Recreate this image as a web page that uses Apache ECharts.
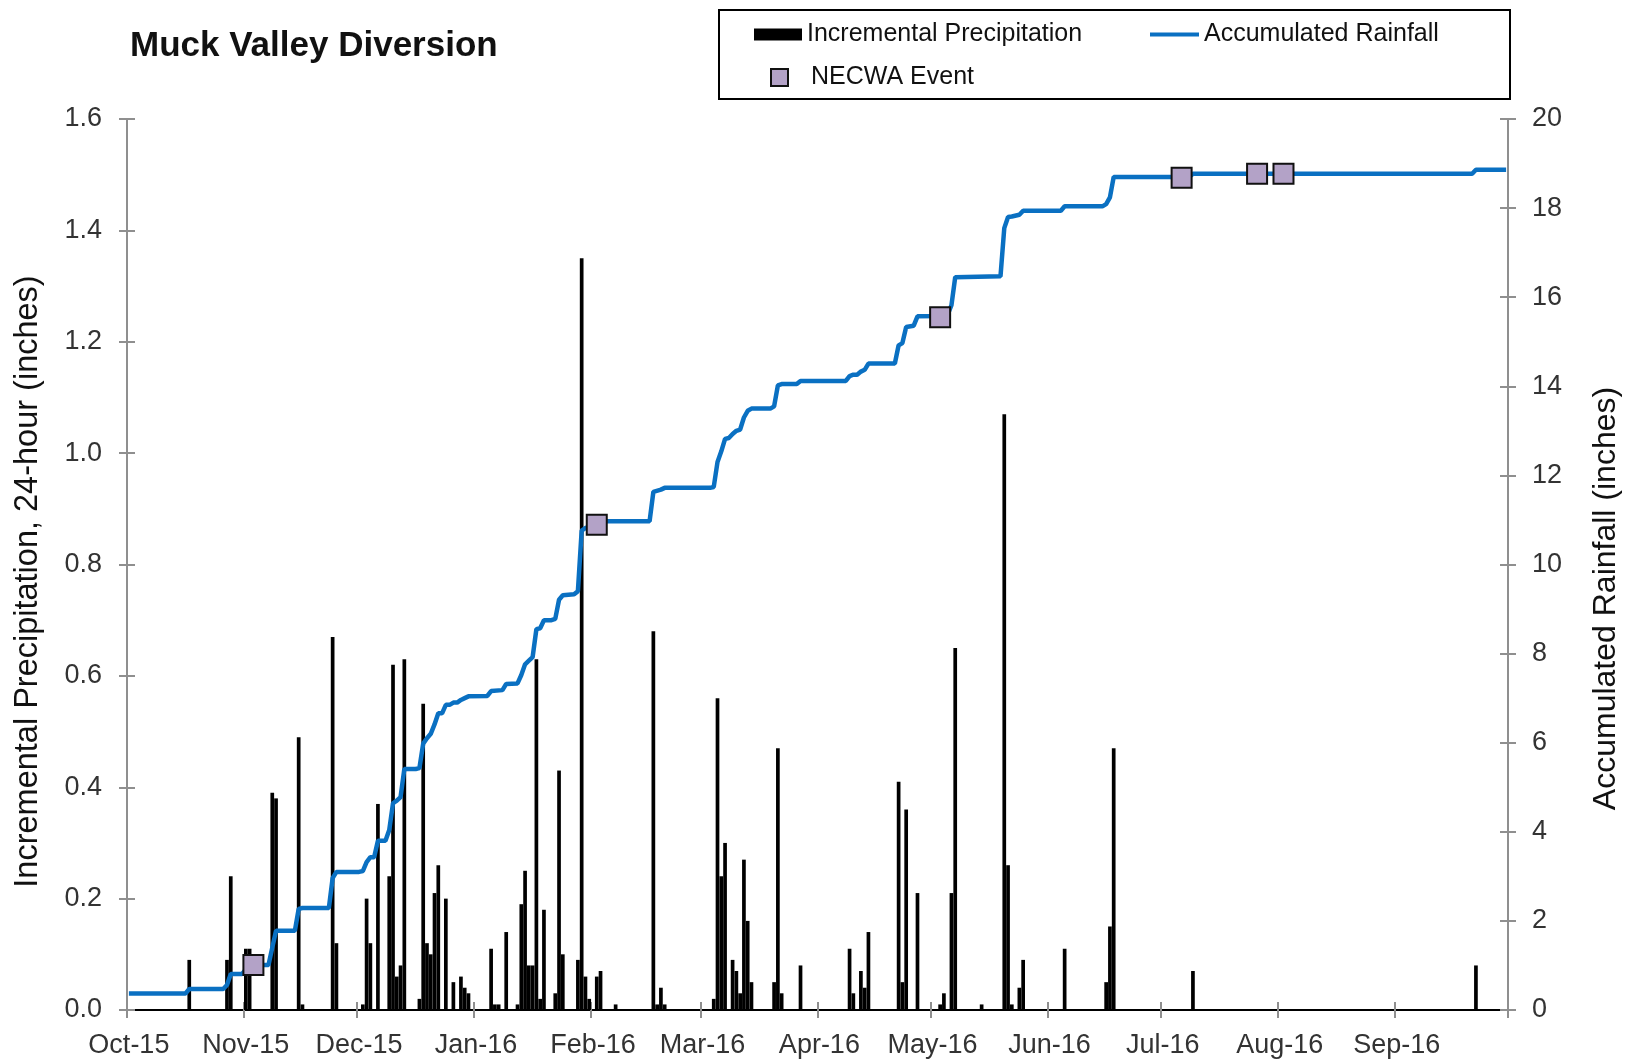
<!DOCTYPE html>
<html>
<head>
<meta charset="utf-8">
<script src="https://cdn.jsdelivr.net/npm/echarts@6/dist/echarts.min.js"></script>
<style>
html,body{margin:0;padding:0;background:#fff;}
#chart{width:1627px;height:1061px;}
</style>
</head>
<body>
<div id="chart"></div>
<script>
// ---- Data ----
const title = 'Muck Valley Diversion';
const monthNames = ['Jan','Feb','Mar','Apr','May','Jun','Jul','Aug','Sep','Oct','Nov','Dec'];
const leftTicks = [0, 0.2, 0.4, 0.6, 0.8, 1.0, 1.2, 1.4, 1.6];
const rightTicks = [0, 2, 4, 6, 8, 10, 12, 14, 16, 18, 20];

// Incremental precipitation (24-hour), inches
const rainDays = [
 '2015-10-17','2015-10-27','2015-10-28','2015-11-01','2015-11-02','2015-11-08','2015-11-09','2015-11-15','2015-11-16','2015-11-24','2015-11-25',
 '2015-12-02','2015-12-03','2015-12-04','2015-12-06','2015-12-09','2015-12-10','2015-12-11','2015-12-12','2015-12-13','2015-12-17','2015-12-18',
 '2015-12-19','2015-12-20','2015-12-21','2015-12-22','2015-12-24','2015-12-26','2015-12-28','2015-12-29','2015-12-30',
 '2016-01-05','2016-01-06','2016-01-07','2016-01-09','2016-01-12','2016-01-13','2016-01-14','2016-01-15','2016-01-16','2016-01-17','2016-01-18',
 '2016-01-19','2016-01-22','2016-01-23','2016-01-24','2016-01-28','2016-01-29','2016-01-30','2016-01-31',
 '2016-02-02','2016-02-03','2016-02-07','2016-02-17','2016-02-18','2016-02-19','2016-02-20',
 '2016-03-04','2016-03-05','2016-03-06','2016-03-07','2016-03-09','2016-03-10','2016-03-11','2016-03-12','2016-03-13','2016-03-14',
 '2016-03-20','2016-03-21','2016-03-22','2016-03-27',
 '2016-04-09','2016-04-10','2016-04-12','2016-04-13','2016-04-14','2016-04-22','2016-04-23','2016-04-24','2016-04-27',
 '2016-05-03','2016-05-04','2016-05-06','2016-05-07','2016-05-14','2016-05-20','2016-05-21','2016-05-22','2016-05-24','2016-05-25',
 '2016-06-05','2016-06-16','2016-06-17','2016-06-18','2016-07-09','2016-09-22'
];
const rainInches = [
 0.09,0.09,0.24,0.11,0.11,0.39,0.38,0.49,0.01,0.67,0.12,
 0.01,0.20,0.12,0.37,0.24,0.62,0.06,0.08,0.63,0.02,0.55,
 0.12,0.10,0.21,0.26,0.20,0.05,0.06,0.04,0.03,
 0.11,0.01,0.01,0.14,0.01,0.19,0.25,0.08,0.08,0.63,0.02,
 0.18,0.03,0.43,0.10,0.09,1.35,0.06,0.02,
 0.06,0.07,0.01,0.68,0.01,0.04,0.01,
 0.02,0.56,0.24,0.30,0.09,0.07,0.03,0.27,0.16,0.05,
 0.05,0.47,0.03,0.08,
 0.11,0.03,0.07,0.04,0.14,0.41,0.05,0.36,0.21,
 0.01,0.03,0.21,0.65,0.01,1.07,0.26,0.01,0.04,0.09,
 0.11,0.05,0.15,0.47,0.07,0.08
];

// Accumulated rainfall, inches (line vertices)
const accumDays = [
 '2015-10-01','2015-10-16','2015-10-17','2015-10-26','2015-10-27','2015-10-28','2015-10-31','2015-11-01','2015-11-02','2015-11-07',
 '2015-11-08','2015-11-09','2015-11-14','2015-11-15','2015-11-16','2015-11-23','2015-11-24','2015-11-25','2015-12-01','2015-12-02',
 '2015-12-03','2015-12-04','2015-12-05','2015-12-06','2015-12-08','2015-12-09','2015-12-10','2015-12-11','2015-12-12','2015-12-13',
 '2015-12-16','2015-12-17','2015-12-18','2015-12-19','2015-12-20','2015-12-21','2015-12-22','2015-12-23','2015-12-24','2015-12-25',
 '2015-12-26','2015-12-27','2015-12-28','2015-12-29','2015-12-30','2016-01-04','2016-01-05','2016-01-08','2016-01-09','2016-01-12',
 '2016-01-13','2016-01-14','2016-01-15','2016-01-16','2016-01-17','2016-01-18','2016-01-19','2016-01-21','2016-01-22','2016-01-23',
 '2016-01-24','2016-01-27','2016-01-28','2016-01-29','2016-01-30','2016-01-31','2016-02-02','2016-02-03','2016-02-16','2016-02-17',
 '2016-02-19','2016-02-20','2016-03-03','2016-03-04','2016-03-05','2016-03-06','2016-03-07','2016-03-08','2016-03-09','2016-03-10',
 '2016-03-11','2016-03-12','2016-03-13','2016-03-14','2016-03-19','2016-03-20','2016-03-21','2016-03-22','2016-03-26','2016-03-27',
 '2016-04-08','2016-04-09','2016-04-10','2016-04-11','2016-04-12','2016-04-13','2016-04-14','2016-04-21','2016-04-22','2016-04-23',
 '2016-04-24','2016-04-26','2016-04-27','2016-05-03','2016-05-04','2016-05-05','2016-05-06','2016-05-07','2016-05-19','2016-05-20',
 '2016-05-21','2016-05-22','2016-05-24','2016-05-25','2016-06-04','2016-06-05','2016-06-15','2016-06-16','2016-06-17','2016-06-18',
 '2016-07-08','2016-07-09','2016-09-21','2016-09-22','2016-09-30'
];
const accumInches = [
 0.37,0.37,0.47,0.47,0.56,0.81,0.81,0.91,1.01,1.01,
 1.40,1.78,1.78,2.27,2.29,2.29,2.96,3.10,3.10,3.12,
 3.32,3.43,3.43,3.80,3.80,4.04,4.64,4.70,4.78,5.41,
 5.41,5.43,5.98,6.10,6.20,6.41,6.66,6.66,6.85,6.85,
 6.90,6.90,6.96,7.00,7.04,7.05,7.16,7.18,7.32,7.33,
 7.52,7.76,7.84,7.92,8.55,8.57,8.75,8.75,8.78,9.21,
 9.31,9.33,9.40,10.76,10.82,10.84,10.90,10.97,10.97,11.63,
 11.68,11.72,11.72,11.74,12.30,12.54,12.82,12.84,12.93,13.00,
 13.03,13.30,13.45,13.50,13.50,13.55,14.02,14.05,14.05,14.12,
 14.12,14.23,14.26,14.26,14.33,14.37,14.51,14.51,14.92,14.97,
 15.33,15.36,15.57,15.58,15.61,15.61,15.82,16.45,16.47,17.55,
 17.80,17.81,17.85,17.94,17.94,18.04,18.04,18.09,18.24,18.70,
 18.70,18.77,18.77,18.86,18.86
];

// NECWA events (plotted on accumulated-rainfall axis)
const eventDays = ['2015-11-03','2016-02-02','2016-05-03','2016-07-06','2016-07-26','2016-08-02'];
const eventInches = [1.01, 10.89, 15.55, 18.68, 18.77, 18.77];

// ---- Category axis: every day of the water year ----
const days = [];
(function(){
  const start = Date.UTC(2015, 9, 1), end = Date.UTC(2016, 9, 1);
  for (let t = start; t < end; t += 86400000) {
    days.push(new Date(t).toISOString().slice(0, 10));
  }
})();
const isMonthStart = (i) => days[i] && days[i].slice(8) === '01';
const fmtMonth = (s) => monthNames[parseInt(s.slice(5, 7), 10) - 1] + '-' + s.slice(2, 4);

const barData = rainDays.map((d, i) => [d, rainInches[i]]);
const lineData = accumDays.map((d, i) => [d, accumInches[i]]);
const eventData = eventDays.map((d, i) => [d, eventInches[i]]);

const font = 'Liberation Sans, Arial, sans-serif';
const gray = '#8f8f8f';
const labelColor = '#333333';
const blue = '#0a70c2';
const lavender = '#b3a2c7';
const legendText = {fontFamily: font, fontSize: 25, color: '#111'};

const chart = echarts.init(document.getElementById('chart'), null, {renderer: 'canvas'});
chart.setOption({
  animation: false,
  backgroundColor: '#ffffff',
  textStyle: {fontFamily: font},
  title: {
    text: title, left: 130, top: 29, padding: 0,
    textStyle: {fontFamily: font, fontSize: 35, fontWeight: 'bold', color: '#111'}
  },
  graphic: [{
    type: 'rect', left: 718, top: 9, z: 1,
    shape: {width: 791, height: 89},
    style: {fill: '#fff', stroke: '#000', lineWidth: 2}
  }],
  legend: [{
    left: 754, top: 22, z: 5, padding: 0,
    itemWidth: 48, itemHeight: 12,
    textStyle: legendText,
    data: [{name: 'Incremental Precipitation', icon: 'rect'}]
  }, {
    left: 1150, top: 22, z: 5, padding: 0,
    itemWidth: 49, itemHeight: 4,
    textStyle: legendText,
    data: [{name: 'Accumulated Rainfall', icon: 'rect', itemStyle: {color: blue}}]
  }, {
    left: 770, top: 65, z: 5, padding: 0,
    itemWidth: 17, itemHeight: 17,
    textStyle: Object.assign({}, legendText, {padding: [0, 0, 0, 18]}),
    data: [{name: 'NECWA Event', icon: 'rect'}]
  }],
  grid: {left: 127, right: 119, top: 119, bottom: 51, containLabel: false, outerBoundsMode: 'none'},
  xAxis: [{
    type: 'category', data: days, boundaryGap: true,
    axisLine: {lineStyle: {color: gray, width: 2}},
    axisTick: {show: true, interval: isMonthStart, length: 8, lineStyle: {color: gray, width: 2}},
    axisLabel: {interval: isMonthStart, formatter: fmtMonth, fontSize: 27, color: labelColor, margin: 22, fontFamily: font},
    splitLine: {show: false}
  }, {
    type: 'category', data: days, position: 'top', boundaryGap: true,
    axisLine: {show: true, lineStyle: {color: '#000', width: 2}},
    axisTick: {show: false}, axisLabel: {show: false}
  }, {
    type: 'category', data: days, position: 'bottom', boundaryGap: true,
    axisLine: {show: false},
    axisTick: {show: true, inside: true, interval: isMonthStart, length: 8, lineStyle: {color: gray, width: 2}},
    axisLabel: {show: false}
  }],
  yAxis: [{
    type: 'value', min: 0, max: 1.6, interval: 0.2, position: 'left',
    name: 'Incremental Precipitation, 24-hour (inches)',
    nameLocation: 'middle', nameRotate: 90, nameGap: 82,
    nameTextStyle: {fontFamily: font, fontSize: 32.5, color: '#111', padding: [0, 34, 0, 0]},
    axisLine: {show: true, lineStyle: {color: gray, width: 2}},
    axisTick: {show: true, length: 8, lineStyle: {color: gray, width: 2}},
    axisLabel: {fontSize: 27, color: labelColor, margin: 25, formatter: v => v.toFixed(1)},
    splitLine: {show: false}
  }, {
    type: 'value', min: 0, max: 20, interval: 2, position: 'right',
    name: 'Accumulated Rainfall (inches)',
    nameLocation: 'middle', nameRotate: 90, nameGap: 82,
    nameTextStyle: {fontFamily: font, fontSize: 32, color: '#111', verticalAlign: 'top', padding: [0, 68, 0, 0]},
    axisLine: {show: true, lineStyle: {color: gray, width: 2}},
    axisTick: {show: true, length: 8, lineStyle: {color: gray, width: 2}},
    axisLabel: {fontSize: 27, color: labelColor, margin: 24},
    splitLine: {show: false}
  }, {
    type: 'value', min: 0, max: 1.6, interval: 0.2, position: 'left',
    axisLine: {show: false}, axisLabel: {show: false}, splitLine: {show: false},
    axisTick: {show: true, inside: true, length: 8, lineStyle: {color: gray, width: 2}}
  }, {
    type: 'value', min: 0, max: 20, interval: 2, position: 'right',
    axisLine: {show: false}, axisLabel: {show: false}, splitLine: {show: false},
    axisTick: {show: true, inside: true, length: 8, lineStyle: {color: gray, width: 2}}
  }],
  series: [{
    name: 'Incremental Precipitation', type: 'bar',
    xAxisIndex: 0, yAxisIndex: 0,
    data: barData, barWidth: 3.7,
    itemStyle: {color: '#000000'}, z: 2
  }, {
    name: 'Accumulated Rainfall', type: 'line',
    xAxisIndex: 0, yAxisIndex: 1,
    data: lineData, showSymbol: false, symbol: 'none', connectNulls: true,
    lineStyle: {color: blue, width: 4.5}, itemStyle: {color: blue}, z: 3
  }, {
    name: 'NECWA Event', type: 'scatter',
    xAxisIndex: 0, yAxisIndex: 1,
    data: eventData, symbol: 'rect', symbolSize: 20,
    itemStyle: {color: lavender, borderColor: '#111', borderWidth: 2, opacity: 1}, z: 4
  }]
});
</script>
</body>
</html>
